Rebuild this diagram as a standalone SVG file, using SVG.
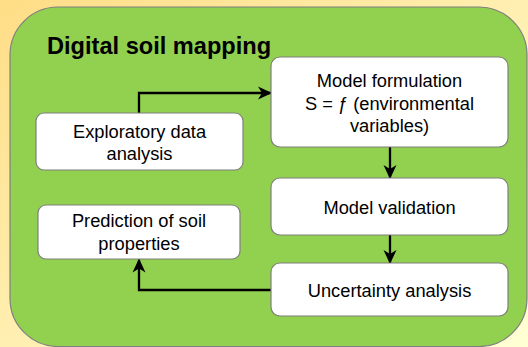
<svg xmlns="http://www.w3.org/2000/svg" width="528" height="347" viewBox="0 0 528 347">
  <defs>
    <linearGradient id="bg" x1="0" y1="0" x2="1" y2="1">
      <stop offset="0" stop-color="#FFDD86"/>
      <stop offset="0.5" stop-color="#FFEFB0"/>
      <stop offset="1" stop-color="#FFFFD4"/>
    </linearGradient>
    <marker id="arrow" viewBox="0 0 14 14" refX="13" refY="7" markerWidth="14" markerHeight="14" markerUnits="userSpaceOnUse" orient="auto">
      <path d="M0,0.5 L14,7 L0,13.5 L4,7 Z" fill="#000"/>
    </marker>
    <style>
      .panel { fill: #92D050; stroke: #7F7F7F; stroke-width: 1.2; }
      .box { fill: #FFFFFF; stroke: #7F7F7F; stroke-width: 1.2; }
      .label { font-family: "Liberation Sans", Arial, sans-serif; font-size: 18.3px; fill: #000; text-anchor: middle; }
      .title { font-family: "Liberation Sans", Arial, sans-serif; font-size: 23.6px; font-weight: bold; fill: #000; }
      .link { fill: none; stroke: #000; stroke-width: 2.3; marker-end: url(#arrow); }
    </style>
  </defs>

  <!-- backdrop -->
  <rect x="0" y="0" width="528" height="347" fill="url(#bg)"/>

  <!-- main panel -->
  <g id="panel">
    <rect class="panel" x="10" y="7" width="517" height="339.5" rx="48" ry="48"/>
    <text class="title" x="47" y="54">Digital soil mapping</text>
  </g>

  <!-- connectors -->
  <g id="connectors">
    <path class="link" d="M139,113 V93 H271"/>
    <path class="link" d="M390,147 V178"/>
    <path class="link" d="M390,235 V263"/>
    <path class="link" d="M271,290 H139 V259.5"/>
  </g>

  <g id="exploratory">
    <rect class="box" x="36" y="113" width="207" height="57" rx="8"/>
    <text class="label" x="139.5" y="138">Exploratory data</text>
    <text class="label" x="139.5" y="160">analysis</text>
  </g>

  <g id="formulation">
    <rect class="box" x="271" y="57" width="237" height="90" rx="9"/>
    <text class="label" x="389.5" y="87">Model formulation</text>
    <text class="label" x="389.5" y="110">S = ƒ (environmental</text>
    <text class="label" x="389.5" y="132">variables)</text>
  </g>

  <g id="validation">
    <rect class="box" x="271" y="178" width="237" height="57" rx="9"/>
    <text class="label" x="389.5" y="214">Model validation</text>
  </g>

  <g id="uncertainty">
    <rect class="box" x="271" y="263" width="237" height="53" rx="9"/>
    <text class="label" x="389.5" y="297">Uncertainty analysis</text>
  </g>

  <g id="prediction">
    <rect class="box" x="38" y="205" width="202" height="54" rx="8"/>
    <text class="label" x="139" y="227">Prediction of soil</text>
    <text class="label" x="139" y="250">properties</text>
  </g>
</svg>
